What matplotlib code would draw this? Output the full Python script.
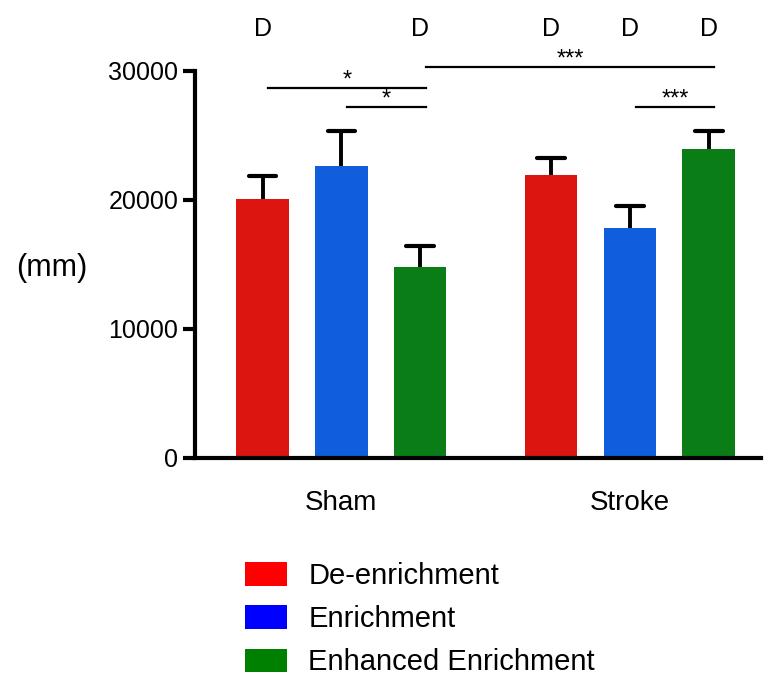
import matplotlib
matplotlib.use('Agg')
import matplotlib.pyplot as plt
from matplotlib.patches import Patch

groups = ['Sham', 'Stroke']
conditions = ['De-enrichment', 'Enrichment', 'Enhanced Enrichment']
sham_means = [20050, 22650, 14800]
sham_sem = [1800, 2700, 1600]
stroke_means = [21950, 17850, 23900]
stroke_sem = [1300, 1700, 1450]
bar_colors = ['#dc1510', '#105edc', '#0b7d17']
legend_colors = ['#ff0000', '#0000ff', '#008000']

# letter markers above bars: (group, condition index)
d_marks = [(0, 0), (0, 2), (1, 0), (1, 1), (1, 2)]
# significance brackets: ((group, cond), (group, cond), y, label)
brackets = [((0, 0), (0, 2), 28700, '*'),
            ((0, 1), (0, 2), 27200, '*'),
            ((0, 2), (1, 2), 30300, '***'),
            ((1, 1), (1, 2), 27200, '***')]

plt.rcParams['font.family'] = ['Liberation Sans', 'DejaVu Sans']

offsets = [-0.273, 0.0, 0.273]
width = 0.182
cap = 0.048


def xpos(g, c):
    return g + offsets[c]


fig = plt.figure(figsize=(7.65, 6.77), dpi=100)
ax = fig.add_axes([0.255, 0.3235, 0.74, 0.572])

for g, (means, sems) in enumerate([(sham_means, sham_sem), (stroke_means, stroke_sem)]):
    for c in range(3):
        x = xpos(g, c)
        ax.bar(x, means[c], width=width, color=bar_colors[c],
               edgecolor='none', zorder=2)
        # upper half of the error bar only
        top = means[c] + sems[c]
        ax.vlines(x, means[c], top, color='black', lw=2.8, zorder=3)
        ax.hlines(top, x - cap, x + cap, color='black', lw=3.0, zorder=3,
                  capstyle='round')

for (g1, c1), (g2, c2), y, label in brackets:
    x1 = xpos(g1, c1) + 0.02
    x2 = xpos(g2, c2) + 0.02
    ax.plot([x1, x2], [y, y], color='black', lw=1.6, clip_on=False)
    ax.text((x1 + x2) / 2, y + 100, label, ha='center', va='baseline',
            fontsize=17, clip_on=False)

for g, c in d_marks:
    ax.text(xpos(g, c), 33200, 'D', ha='center', va='center',
            fontsize=18, clip_on=False)

ax.set_xlim(-0.507, 1.455)
ax.set_ylim(0, 30000)
ax.set_yticks([0, 10000, 20000, 30000])
ax.set_yticklabels(['0', '10000', '20000', '30000'], fontsize=18)
ax.set_xticks([0, 1])
ax.set_xticklabels(groups, fontsize=20)

for side in ['top', 'right']:
    ax.spines[side].set_visible(False)
for side in ['left', 'bottom']:
    ax.spines[side].set_linewidth(3)
ax.tick_params(axis='y', length=9, width=3, pad=3)
ax.tick_params(axis='x', length=0, pad=23)

fig.text(0.068, 1 - 268 / 677, '(mm)', ha='center', va='center', fontsize=22)

handles = [Patch(facecolor=col, edgecolor='none') for col in legend_colors]
fig.legend(handles, conditions, loc='upper left',
           bbox_to_anchor=(245 / 765, 1 - 562 / 677), frameon=False,
           fontsize=21, handlelength=1.45, handleheight=0.86,
           handletextpad=0.72, labelspacing=0.52, borderpad=0,
           borderaxespad=0)

fig.savefig('out.png', dpi=100)
